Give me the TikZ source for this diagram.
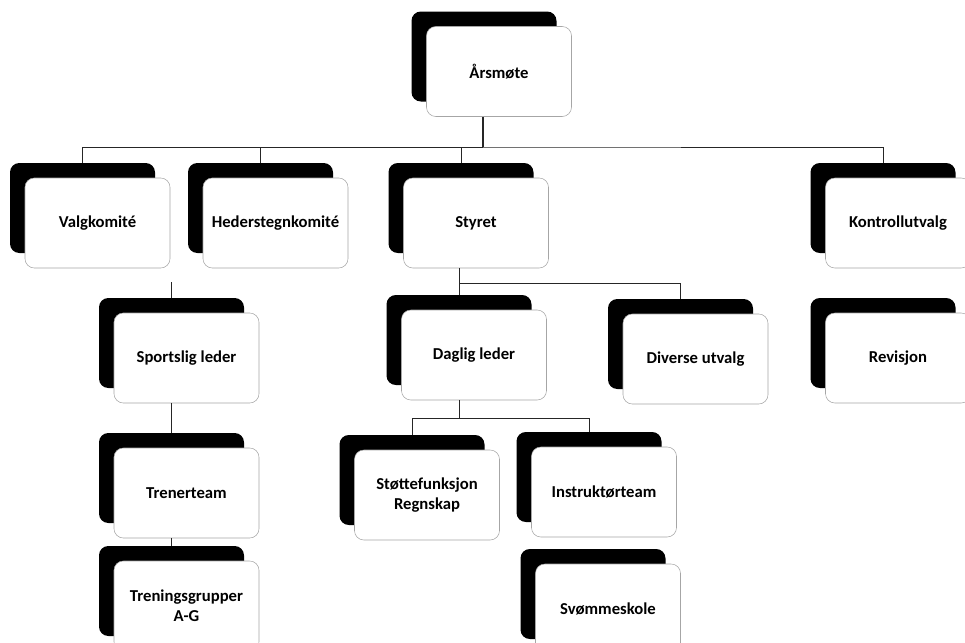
\documentclass[tikz,border=0pt]{standalone}
\usepackage{fontspec}
\setmainfont{Carlito}
\usetikzlibrary{shadows}

\begin{document}
\begin{tikzpicture}[x=0.75pt,y=0.75pt,yscale=-1,xscale=1,
  orgbox/.style={draw=black!35, line width=0.4pt, fill=white, rounded corners=7pt,
    minimum width=108.75pt, minimum height=67.5pt, align=center,
    font=\bfseries\fontsize{12.5}{15}\selectfont,
    general shadow={fill=black, shadow xshift=-11.25pt, shadow yshift=11.25pt}},
  link/.style={draw=black!85, line width=0.6pt}]
\useasboundingbox (0,0) rectangle (965,643);
%boxes
\node[orgbox] (aarsmote) at (499,71.5) {Årsmøte};
\node[orgbox] (valg) at (97.5,223) {Valgkomité};
\node[orgbox] (heder) at (275.5,223) {Hederstegnkomité};
\node[orgbox] (styret) at (476,223) {Styret};
\node[orgbox] (kontroll) at (898,223) {Kontrollutvalg};
\node[orgbox] (sport) at (186.5,358) {Sportslig leder};
\node[orgbox] (daglig) at (474,355) {Daglig leder};
\node[orgbox] (diverse) at (695.5,359) {Diverse utvalg};
\node[orgbox] (revisjon) at (898,358) {Revisjon};
\node[orgbox] (trener) at (186.5,493) {Trenerteam};
\node[orgbox] (stotte) at (427,495) {Støttefunksjon\\Regnskap};
\node[orgbox] (instruktor) at (604,492) {Instruktørteam};
\node[orgbox] (trening) at (186.5,606) {Treningsgrupper\\A-G};
\node[orgbox] (svomme) at (608,609) {Svømmeskole};
%connectors
\coordinate (abus) at (483,147);
\coordinate (sbus) at (459,283);
\coordinate (dbus) at (459,418);
\coordinate (sporttop) at (171.5,282);
\draw[link, line width=2.2pt] ([xshift=-12pt]aarsmote.south) -- (abus);
\draw[link] ([shift={(-15,-15)}]valg.north) |- (abus) -| ([shift={(-15,-15)}]kontroll.north);
\draw[link] (abus) -| ([shift={(-15,-15)}]heder.north);
\draw[link] (abus) -| ([shift={(-15,-15)}]styret.north);
\draw[link] ([xshift=-12.75pt]styret.south) -- ([shift={(-15,-15)}]daglig.north);
\draw[link] (sbus) -| ([shift={(-15,-15)}]diverse.north);
\draw[link] (sporttop) -- ([shift={(-15,-15)}]sport.north);
\draw[link] ([xshift=-11.25pt]sport.south) -- ([shift={(-15,-15)}]trener.north);
\draw[link] ([xshift=-11.25pt]trener.south) -- ([shift={(-15,-15)}]trening.north);
\draw[link] ([xshift=-11.25pt]daglig.south) -- (dbus);
\draw[link] (dbus) -| ([shift={(-15,-15)}]stotte.north);
\draw[link] (dbus) -| ([shift={(-15,-15)}]instruktor.north);
\end{tikzpicture}
\end{document}
